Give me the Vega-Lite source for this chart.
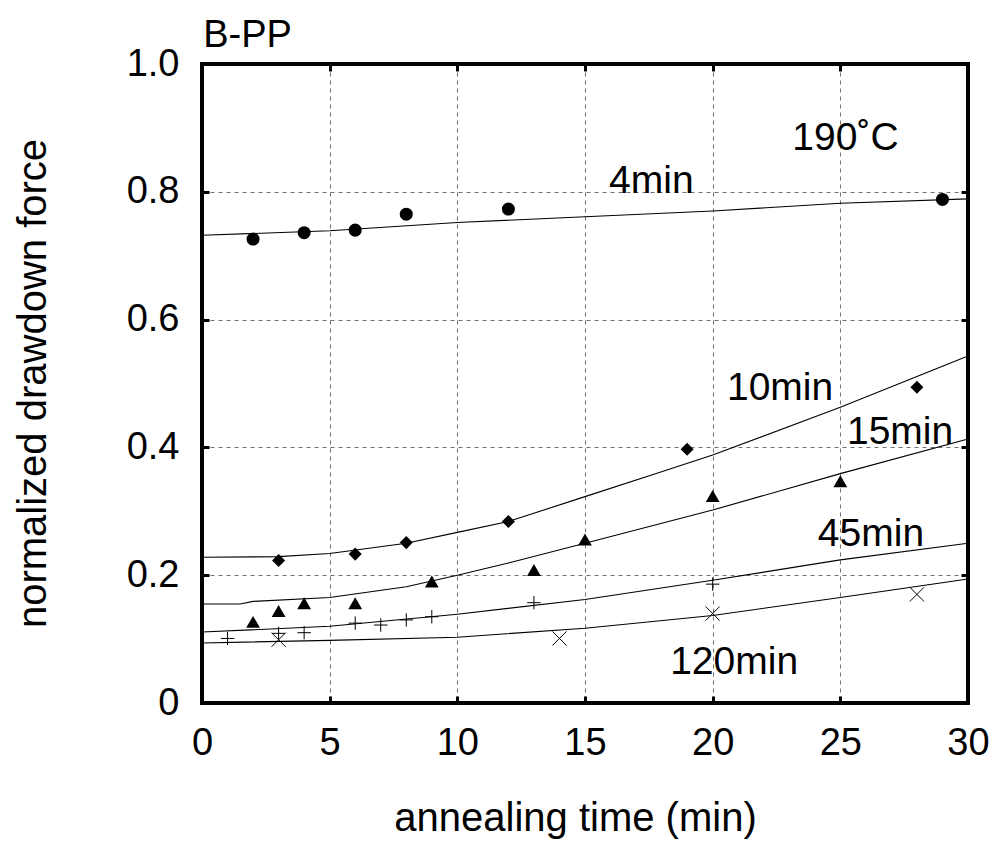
{
  "$schema": "https://vega.github.io/schema/vega-lite/v6.json",
  "width": 766,
  "height": 639,
  "autosize": "none",
  "padding": {"left": 202, "top": 64, "right": 29, "bottom": 140},
  "background": "white",
  "datasets": {
    "pts": [
      {"s": "4min", "k": "fit", "t": 0, "f": 0.732},
      {"s": "4min", "k": "fit", "t": 5, "f": 0.739},
      {"s": "4min", "k": "fit", "t": 10, "f": 0.752},
      {"s": "4min", "k": "fit", "t": 15, "f": 0.761},
      {"s": "4min", "k": "fit", "t": 20, "f": 0.770},
      {"s": "4min", "k": "fit", "t": 25, "f": 0.782},
      {"s": "4min", "k": "fit", "t": 30, "f": 0.789},
      {"s": "4min", "k": "obs", "t": 2, "f": 0.726},
      {"s": "4min", "k": "obs", "t": 4, "f": 0.736},
      {"s": "4min", "k": "obs", "t": 6, "f": 0.740},
      {"s": "4min", "k": "obs", "t": 8, "f": 0.765},
      {"s": "4min", "k": "obs", "t": 12, "f": 0.773},
      {"s": "4min", "k": "obs", "t": 29, "f": 0.788},
      {"s": "10min", "k": "fit", "t": 0, "f": 0.228},
      {"s": "10min", "k": "fit", "t": 3, "f": 0.229},
      {"s": "10min", "k": "fit", "t": 5, "f": 0.234},
      {"s": "10min", "k": "fit", "t": 8, "f": 0.250},
      {"s": "10min", "k": "fit", "t": 10, "f": 0.267},
      {"s": "10min", "k": "fit", "t": 12, "f": 0.284},
      {"s": "10min", "k": "fit", "t": 15, "f": 0.323},
      {"s": "10min", "k": "fit", "t": 18, "f": 0.362},
      {"s": "10min", "k": "fit", "t": 20, "f": 0.388},
      {"s": "10min", "k": "fit", "t": 25, "f": 0.463},
      {"s": "10min", "k": "fit", "t": 30, "f": 0.543},
      {"s": "10min", "k": "obs", "t": 3, "f": 0.223},
      {"s": "10min", "k": "obs", "t": 6, "f": 0.233},
      {"s": "10min", "k": "obs", "t": 8, "f": 0.251},
      {"s": "10min", "k": "obs", "t": 12, "f": 0.284},
      {"s": "10min", "k": "obs", "t": 19, "f": 0.397},
      {"s": "10min", "k": "obs", "t": 28, "f": 0.494},
      {"s": "15min", "k": "fit", "t": 0, "f": 0.155},
      {"s": "15min", "k": "fit", "t": 1.5, "f": 0.155},
      {"s": "15min", "k": "fit", "t": 2, "f": 0.159},
      {"s": "15min", "k": "fit", "t": 5, "f": 0.165},
      {"s": "15min", "k": "fit", "t": 8, "f": 0.182},
      {"s": "15min", "k": "fit", "t": 10, "f": 0.200},
      {"s": "15min", "k": "fit", "t": 12, "f": 0.219},
      {"s": "15min", "k": "fit", "t": 15, "f": 0.250},
      {"s": "15min", "k": "fit", "t": 20, "f": 0.302},
      {"s": "15min", "k": "fit", "t": 25, "f": 0.359},
      {"s": "15min", "k": "fit", "t": 30, "f": 0.413},
      {"s": "15min", "k": "obs", "t": 2, "f": 0.127},
      {"s": "15min", "k": "obs", "t": 3, "f": 0.144},
      {"s": "15min", "k": "obs", "t": 4, "f": 0.156},
      {"s": "15min", "k": "obs", "t": 6, "f": 0.156},
      {"s": "15min", "k": "obs", "t": 9, "f": 0.190},
      {"s": "15min", "k": "obs", "t": 13, "f": 0.208},
      {"s": "15min", "k": "obs", "t": 15, "f": 0.256},
      {"s": "15min", "k": "obs", "t": 20, "f": 0.324},
      {"s": "15min", "k": "obs", "t": 25, "f": 0.347},
      {"s": "45min", "k": "fit", "t": 0, "f": 0.111},
      {"s": "45min", "k": "fit", "t": 5, "f": 0.120},
      {"s": "45min", "k": "fit", "t": 10, "f": 0.139},
      {"s": "45min", "k": "fit", "t": 15, "f": 0.162},
      {"s": "45min", "k": "fit", "t": 20, "f": 0.192},
      {"s": "45min", "k": "fit", "t": 25, "f": 0.224},
      {"s": "45min", "k": "fit", "t": 30, "f": 0.250},
      {"s": "45min", "k": "obs", "t": 1, "f": 0.101},
      {"s": "45min", "k": "obs", "t": 3, "f": 0.109},
      {"s": "45min", "k": "obs", "t": 4, "f": 0.110},
      {"s": "45min", "k": "obs", "t": 6, "f": 0.125},
      {"s": "45min", "k": "obs", "t": 7, "f": 0.122},
      {"s": "45min", "k": "obs", "t": 8, "f": 0.130},
      {"s": "45min", "k": "obs", "t": 9, "f": 0.135},
      {"s": "45min", "k": "obs", "t": 13, "f": 0.157},
      {"s": "45min", "k": "obs", "t": 20, "f": 0.186},
      {"s": "120min", "k": "fit", "t": 0, "f": 0.094},
      {"s": "120min", "k": "fit", "t": 5, "f": 0.098},
      {"s": "120min", "k": "fit", "t": 10, "f": 0.103},
      {"s": "120min", "k": "fit", "t": 15, "f": 0.117},
      {"s": "120min", "k": "fit", "t": 20, "f": 0.137},
      {"s": "120min", "k": "fit", "t": 25, "f": 0.165},
      {"s": "120min", "k": "fit", "t": 30, "f": 0.194},
      {"s": "120min", "k": "obs", "t": 3, "f": 0.099},
      {"s": "120min", "k": "obs", "t": 14, "f": 0.101},
      {"s": "120min", "k": "obs", "t": 20, "f": 0.140},
      {"s": "120min", "k": "obs", "t": 28, "f": 0.170}
    ],
    "labels": [
      {"label": "190˚C", "t": 25.2, "f": 0.865},
      {"label": "4min", "t": 17.6, "f": 0.798},
      {"label": "10min", "t": 22.64, "f": 0.474},
      {"label": "15min", "t": 27.34, "f": 0.406},
      {"label": "45min", "t": 26.2, "f": 0.245},
      {"label": "120min", "t": 20.84, "f": 0.046}
    ],
    "heading": [
      {"label": "B-PP", "t": 0.05, "f": 1.027}
    ]
  },
  "layer": [
    {
      "data": {"name": "pts"},
      "transform": [{"filter": "datum.k == 'fit'"}],
      "mark": {"type": "line", "color": "black", "strokeWidth": 1.1},
      "encoding": {
        "x": {"field": "t", "type": "quantitative", "scale": {"domain": [0, 30], "nice": false, "zero": false},
          "axis": {"orient": "bottom", "values": [0, 5, 10, 15, 20, 25, 30], "format": "d", "grid": false, "domain": false,
            "tickSize": -7, "tickWidth": 3, "tickColor": "black", "labelFontSize": 38, "labelPadding": 28, "labelColor": "black",
            "labelFont": "Liberation Sans", "labelFlush": false, "labelOverlap": false,
            "title": "annealing time (min)", "titleFontSize": 40, "titleFontWeight": "normal", "titleColor": "black", "titleFont": "Liberation Sans",
            "titleX": 373, "titleY": 127, "titleBaseline": "alphabetic", "titleAlign": "center"}},
        "y": {"field": "f", "type": "quantitative", "scale": {"domain": [0, 1], "nice": false, "zero": false},
          "axis": {"orient": "left", "values": [0, 0.2, 0.4, 0.6, 0.8, 1.0], "labelExpr": "datum.value == 0 ? '0' : format(datum.value, '.1f')",
            "grid": false, "domain": false, "tickSize": -7, "tickWidth": 3, "tickColor": "black", "labelFontSize": 38, "labelPadding": 30,
            "labelColor": "black", "labelFont": "Liberation Sans", "labelFlush": false, "labelOverlap": false,
            "title": "normalized drawdown force", "titleFontSize": 40, "titleFontWeight": "normal", "titleColor": "black", "titleFont": "Liberation Sans",
            "titleX": -157, "titleY": 319, "titleBaseline": "alphabetic", "titleAlign": "center"}},
        "detail": {"field": "s"}
      }
    },
    {
      "data": {"name": "pts"},
      "transform": [{"filter": "datum.k == 'obs' && datum.s == '4min'"}],
      "mark": {"type": "point", "shape": "circle", "filled": true, "size": 170, "color": "black", "opacity": 1},
      "encoding": {
        "x": {"field": "t", "type": "quantitative", "scale": {"domain": [0, 30], "nice": false, "zero": false},
          "axis": {"orient": "top", "values": [0, 5, 10, 15, 20, 25, 30], "labels": false, "grid": false, "domain": false, "tickSize": -7, "tickWidth": 3, "tickColor": "black", "title": null}},
        "y": {"field": "f", "type": "quantitative", "scale": {"domain": [0, 1], "nice": false, "zero": false},
          "axis": {"orient": "right", "values": [0, 0.2, 0.4, 0.6, 0.8, 1.0], "labels": false, "grid": false, "domain": false, "tickSize": -7, "tickWidth": 3, "tickColor": "black", "title": null}}
      }
    },
    {
      "data": {"name": "pts"},
      "transform": [{"filter": "datum.k == 'obs' && datum.s == '10min'"}],
      "mark": {"type": "point", "shape": "diamond", "filled": true, "size": 170, "color": "black", "opacity": 1},
      "encoding": {
        "x": {"field": "t", "type": "quantitative",
          "axis": {"orient": "bottom", "values": [5, 10, 15, 20, 25], "labels": false, "ticks": false, "domain": false, "grid": true, "gridDash": [4, 4], "gridColor": "#707070", "gridWidth": 1, "title": null}},
        "y": {"field": "f", "type": "quantitative",
          "axis": {"orient": "left", "values": [0.2, 0.4, 0.6, 0.8], "labels": false, "ticks": false, "domain": false, "grid": true, "gridDash": [4, 4], "gridColor": "#707070", "gridWidth": 1, "title": null}}
      }
    },
    {
      "data": {"name": "pts"},
      "transform": [{"filter": "datum.k == 'obs' && datum.s == '15min'"}],
      "mark": {"type": "point", "shape": "triangle-up", "filled": true, "size": 190, "color": "black", "opacity": 1},
      "encoding": {
        "x": {"field": "t", "type": "quantitative", "axis": null},
        "y": {"field": "f", "type": "quantitative", "axis": null}
      }
    },
    {
      "data": {"name": "pts"},
      "transform": [{"filter": "datum.k == 'obs' && datum.s == '45min'"}],
      "mark": {"type": "point", "shape": "M-1,0H1M0,-1V1", "filled": false, "size": 180, "color": "black", "strokeWidth": 1, "opacity": 1},
      "encoding": {
        "x": {"field": "t", "type": "quantitative", "axis": null},
        "y": {"field": "f", "type": "quantitative", "axis": null}
      }
    },
    {
      "data": {"name": "pts"},
      "transform": [{"filter": "datum.k == 'obs' && datum.s == '120min'"}],
      "mark": {"type": "point", "shape": "M-1,-1L1,1M-1,1L1,-1", "filled": false, "size": 200, "color": "black", "strokeWidth": 1, "opacity": 1},
      "encoding": {
        "x": {"field": "t", "type": "quantitative", "axis": null},
        "y": {"field": "f", "type": "quantitative", "axis": null}
      }
    },
    {
      "data": {"name": "labels"},
      "mark": {"type": "text", "font": "Liberation Sans", "fontSize": 39, "baseline": "alphabetic", "align": "center", "color": "black"},
      "encoding": {
        "x": {"field": "t", "type": "quantitative", "axis": null},
        "y": {"field": "f", "type": "quantitative", "axis": null},
        "text": {"field": "label"}
      }
    },
    {
      "data": {"name": "heading"},
      "mark": {"type": "text", "font": "Liberation Sans", "fontSize": 38, "baseline": "alphabetic", "align": "left", "color": "black", "clip": false},
      "encoding": {
        "x": {"field": "t", "type": "quantitative", "axis": null},
        "y": {"field": "f", "type": "quantitative", "axis": null},
        "text": {"field": "label"}
      }
    }
  ],
  "resolve": {"axis": {"x": "independent", "y": "independent"}},
  "config": {
    "view": {"stroke": "black", "strokeWidth": 4},
    "font": "Liberation Sans"
  }
}
